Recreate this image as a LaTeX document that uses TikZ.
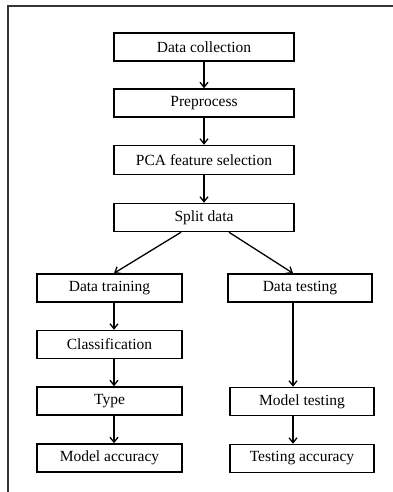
\documentclass[tikz,border=0pt]{standalone}
\usepackage{fontspec}
\setmainfont{Liberation Serif}
\usetikzlibrary{arrows.meta}
\begin{document}
\begin{tikzpicture}[x=1pt,y=-1pt,
  stepbox/.style={draw, line width=1.5pt, inner sep=0pt, minimum height=28pt,
    font=\fontsize{15.5}{17}\selectfont},
  flow/.style={line width=1.3pt, -{Straight Barb[length=5pt,width=8pt,line width=1.3pt]}}]
\useasboundingbox (0,0) rectangle (393,492);
% outer frame (only its top and left sides lie inside the page)
\draw[line width=1.3pt, black!80] (8,493) -- (8,6) -- (394,6);

% main column
\node[stepbox, minimum width=180pt] (dc)    at (204,47)    {Data collection};
\node[stepbox, minimum width=180pt] (pp)    at (204,103)   {Preprocess};
\node[stepbox, minimum width=180pt, minimum height=29pt] (pca) at (204,160) {PCA feature selection};
\node[stepbox, minimum width=180pt] (split) at (204,217.5) {Split data};

% training branch
\node[stepbox, minimum width=145pt] (train) at (109.5,288)   {Data training};
\node[stepbox, minimum width=145pt] (cls)   at (109.5,344.5) {Classification};
\node[stepbox, minimum width=145pt] (type)  at (109.5,401)   {Type};
\node[stepbox, minimum width=145pt] (macc)  at (109.5,458)   {Model accuracy};

% testing branch
\node[stepbox, minimum width=144pt] (test)  at (300,288)   {Data testing};
\node[stepbox, minimum width=144pt] (mtest) at (302,401.5) {Model testing};
\node[stepbox, minimum width=144pt] (tacc)  at (302,458.5) {Testing accuracy};

% column positions of the branch connectors
\coordinate (lc) at (114,0);
\coordinate (rc) at (293,0);
\coordinate (sl) at (181,0);
\coordinate (sr) at (229,0);

\draw[flow] (dc) -- (pp);
\draw[flow] (pp) -- (pca);
\draw[flow] (pca) -- (split);
\draw[flow] (split.south -| sl) -- (train.north -| lc);
\draw[flow] (split.south -| sr) -- (test.north -| rc);
\draw[flow] (train.south -| lc) -- (cls.north -| lc);
\draw[flow] (cls.south -| lc) -- (type.north -| lc);
\draw[flow] (type.south -| lc) -- (macc.north -| lc);
\draw[flow] (test.south -| rc) -- (mtest.north -| rc);
\draw[flow] (mtest.south -| rc) -- (tacc.north -| rc);
\end{tikzpicture}
\end{document}
